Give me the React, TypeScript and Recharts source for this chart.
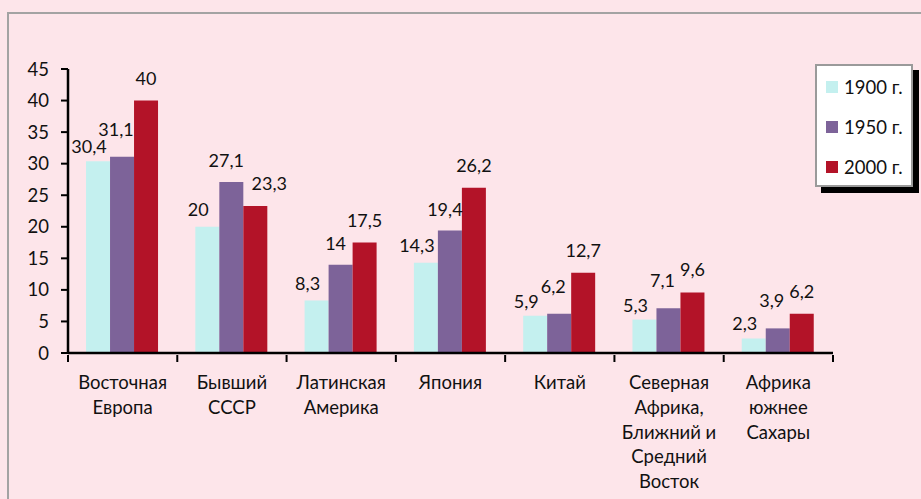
import { BarChart, Bar, XAxis, YAxis, LabelList } from "recharts";

const regions = [
  "Восточная\nЕвропа",
  "Бывший\nСССР",
  "Латинская\nАмерика",
  "Япония",
  "Китай",
  "Северная\nАфрика,\nБлижний и\nСредний\nВосток",
  "Африка\nюжнее\nСахары",
];
const y1900 = [30.4, 20, 8.3, 14.3, 5.9, 5.3, 2.3];
const y1950 = [31.1, 27.1, 14, 19.4, 6.2, 7.1, 3.9];
const y2000 = [40, 23.3, 17.5, 26.2, 12.7, 9.6, 6.2];
const yTicks = [0, 5, 10, 15, 20, 25, 30, 35, 40, 45];

const series = [
  { key: "y1900", name: "1900 г.", color: "#c4f0ef", dx: -9, gap: 11 },
  { key: "y1950", name: "1950 г.", color: "#7d6399", dx: -5, gap: 15 },
  { key: "y2000", name: "2000 г.", color: "#b31328", dx: 0, gap: 16 },
];

const data = regions.map((r, i) => ({
  region: r,
  y1900: y1900[i],
  y1950: y1950[i],
  y2000: y2000[i],
}));

const FONT = "Lato, 'Open Sans', sans-serif";
const fmt = (v: any) => String(v).replace(".", ",");

const RegionTick = (props: any) => {
  const { x, y, payload, index } = props;
  const half = payload && payload.offset ? payload.offset : 54.7;
  const lines = String(payload.value).split("\n");
  return (
    <g>
      <line x1={x - half} x2={x - half} y1={y - 6} y2={y + 1} stroke="#000" strokeWidth={2} />
      {index === regions.length - 1 && (
        <line x1={x + half} x2={x + half} y1={y - 6} y2={y + 1} stroke="#000" strokeWidth={2} />
      )}
      <text x={x} y={y + 28} textAnchor="middle" fill="#111" fontSize={18.5} fontFamily={FONT}>
        {lines.map((l, i) => (
          <tspan key={i} x={x} dy={i === 0 ? 0 : 24.8}>
            {l}
          </tspan>
        ))}
      </text>
    </g>
  );
};

// value labels, nudged the way Excel placed them so neighbours don't collide
const makeLabel = (si: number) => (props: any) => {
  const { x, y, width, height, value, index } = props;
  const s = series[si];
  let dx = s.dx;
  let gap = s.gap;
  const ppu = value ? height / value : 6.3;
  if (si === 1) {
    const prev = y1900[index];
    if (Math.abs(value - prev) * ppu < 14) {
      gap = 21;
      dx = -6;
    }
  }
  if (si === 0) {
    const next = y1950[index];
    if (Math.abs(value - next) * ppu < 14) gap = 8;
  }
  if (si === 2 && value < y1950[index]) dx = 14;
  return (
    <text
      x={x + width / 2 + dx}
      y={y - gap}
      textAnchor="middle"
      fill="#111"
      fontSize={18}
      fontFamily={FONT}
    >
      {fmt(value)}
    </text>
  );
};

const LegendBox = () => (
  <div style={{ position: "absolute", left: 815, top: 64, width: 104, height: 129 }}>
    <div
      style={{
        position: "absolute",
        left: 6,
        top: 6,
        width: 98,
        height: 123,
        background: "#000",
      }}
    />
    <div
      style={{
        position: "absolute",
        left: 0,
        top: 0,
        width: 94,
        height: 119,
        background: "#fff",
        border: "2px solid #9a9a9a",
      }}
    >
      {series.map((s, i) => (
        <div
          key={s.key}
          style={{
            position: "absolute",
            left: 9,
            top: 10 + i * 40,
            display: "flex",
            alignItems: "center",
            fontFamily: FONT,
            fontSize: 18.5,
            color: "#111",
            whiteSpace: "nowrap",
          }}
        >
          <span style={{ width: 12, height: 12, background: s.color, marginRight: 6, display: "inline-block" }} />
          {s.name}
        </div>
      ))}
    </div>
  </div>
);

export default function App() {
  return (
    <div
      style={{
        position: "fixed",
        left: 0,
        top: 0,
        width: 921,
        height: 499,
        background: "#fde5ea",
        overflow: "hidden",
      }}
    >
      <div
        style={{
          position: "absolute",
          left: 7,
          top: 12,
          width: 1000,
          height: 1000,
          border: "2px solid #a3a3a3",
        }}
      />
      <div style={{ position: "absolute", left: 0, top: 0 }}>
        <BarChart
          width={921}
          height={499}
          data={data}
          margin={{ top: 69, right: 88, left: 0, bottom: 0 }}
          barCategoryGap="16.5%"
          barGap={0}
        >
          <XAxis
            dataKey="region"
            interval={0}
            height={146}
            axisLine={{ stroke: "#000", strokeWidth: 2.5 }}
            tickLine={false}
            tick={<RegionTick />}
          />
          <YAxis
            width={68}
            domain={[0, 45]}
            ticks={yTicks}
            interval={0}
            axisLine={{ stroke: "#000", strokeWidth: 2.5 }}
            tickLine={{ stroke: "#000", strokeWidth: 2 }}
            tickSize={7}
            tickMargin={12}
            tick={{ fill: "#111", fontSize: 18.5, fontFamily: FONT }}
          />
          {series.map((s, si) => (
            <Bar key={s.key} dataKey={s.key} name={s.name} fill={s.color} isAnimationActive={false}>
              <LabelList dataKey={s.key} content={makeLabel(si)} />
            </Bar>
          ))}
        </BarChart>
      </div>
      <LegendBox />
    </div>
  );
}
